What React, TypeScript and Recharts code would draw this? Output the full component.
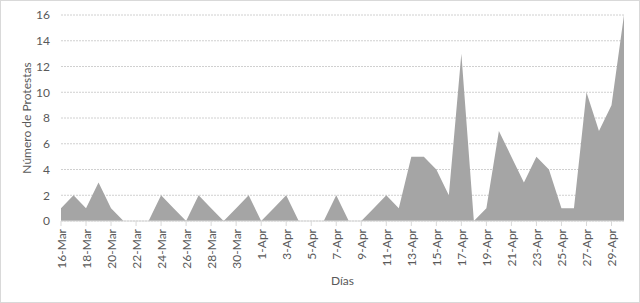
import React from "react";
import { AreaChart, Area, XAxis, YAxis, CartesianGrid } from "recharts";

// Daily protest counts, 16 March – 30 April
const days: string[] = [
  "16-Mar", "17-Mar", "18-Mar", "19-Mar", "20-Mar", "21-Mar", "22-Mar", "23-Mar",
  "24-Mar", "25-Mar", "26-Mar", "27-Mar", "28-Mar", "29-Mar", "30-Mar", "31-Mar",
  "1-Apr", "2-Apr", "3-Apr", "4-Apr", "5-Apr", "6-Apr", "7-Apr", "8-Apr",
  "9-Apr", "10-Apr", "11-Apr", "12-Apr", "13-Apr", "14-Apr", "15-Apr", "16-Apr",
  "17-Apr", "18-Apr", "19-Apr", "20-Apr", "21-Apr", "22-Apr", "23-Apr", "24-Apr",
  "25-Apr", "26-Apr", "27-Apr", "28-Apr", "29-Apr", "30-Apr",
];

const protests: number[] = [
  1, 2, 1, 3, 1, 0, 0, 0, 2, 1, 0, 2, 1, 0, 1, 2,
  0, 1, 2, 0, 0, 0, 2, 0, 0, 1, 2, 1, 5, 5, 4, 2,
  13, 0, 1, 7, 5, 3, 5, 4, 1, 1, 10, 7, 9, 16,
];

const yTicks: number[] = [0, 2, 4, 6, 8, 10, 12, 14, 16];

const data = days.map((d, i) => ({ day: d, count: protests[i] }));

const FONT = "Lato, 'Liberation Sans', sans-serif";
const TEXT = "#595959";

const DayTick = (props: any) => {
  const { x, y, payload } = props;
  return (
    <text
      x={x}
      y={y}
      transform={`rotate(-90, ${x}, ${y})`}
      textAnchor="end"
      dominantBaseline="central"
      fontSize={12}
      fontFamily={FONT}
      fill={TEXT}
    >
      {payload.value}
    </text>
  );
};

export default function App() {
  return (
    <div
      style={{
        position: "absolute",
        left: 0,
        top: 0,
        width: 640,
        height: 303,
        background: "#fff",
        boxSizing: "border-box",
        border: "1px solid #d9d9d9",
      }}
    >
      <div style={{ position: "absolute", left: -1, top: -1 }}>
        <AreaChart
          width={640}
          height={303}
          data={data}
          margin={{ top: 15, right: 16, left: 0, bottom: 0 }}
        >
          <CartesianGrid vertical={false} stroke="#d0d0d0" strokeDasharray="2 1" />
          <XAxis
            dataKey="day"
            interval={1}
            height={82}
            tick={<DayTick />}
            tickSize={5}
            tickMargin={3}
            axisLine={{ stroke: "#d9d9d9" }}
            tickLine={{ stroke: "#d9d9d9" }}
            label={{
              value: "Días",
              position: "insideBottom",
              offset: 18,
              fontSize: 12,
              fontFamily: FONT,
              fill: TEXT,
            }}
          />
          <YAxis
            width={61}
            domain={[0, 16]}
            ticks={yTicks}
            axisLine={false}
            tickLine={false}
            tickMargin={5}
            tick={{ fontSize: 12, fontFamily: FONT, fill: TEXT }}
            label={{
              value: "Número de Protestas",
              angle: -90,
              position: "insideLeft",
              offset: 27,
              style: { textAnchor: "middle" },
              fontSize: 12,
              fontFamily: FONT,
              fill: TEXT,
            }}
          />
          <Area
            type="linear"
            dataKey="count"
            stroke="none"
            fill="#a5a5a5"
            fillOpacity={1}
            isAnimationActive={false}
          />
        </AreaChart>
      </div>
    </div>
  );
}
